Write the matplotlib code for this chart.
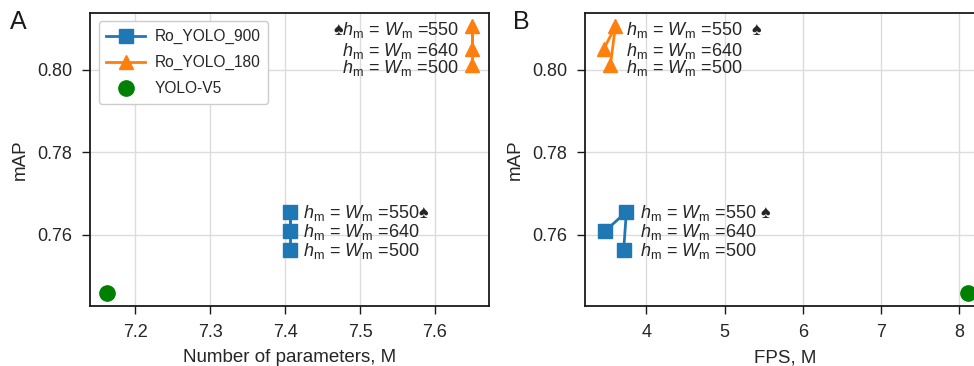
import matplotlib
matplotlib.use("Agg")
import matplotlib.pyplot as plt

plt.rcParams['font.family'] = ['Liberation Sans', 'DejaVu Sans']
plt.rcParams['mathtext.fontset'] = 'custom'
plt.rcParams['mathtext.rm'] = 'Liberation Sans'
plt.rcParams['mathtext.it'] = 'Liberation Sans:italic'
plt.rcParams['text.color'] = '#262626'
plt.rcParams['xtick.color'] = '#262626'
plt.rcParams['ytick.color'] = '#262626'
plt.rcParams['axes.labelcolor'] = '#262626'

# ---- data ----
sizes = [500, 550, 640]
params_900 = [7.407, 7.407, 7.407]
fps_900 = [3.71, 3.744, 3.476]
map_900 = [0.7564, 0.7656, 0.7610]

params_180 = [7.649, 7.649, 7.649]
fps_180 = [3.54, 3.604, 3.455]
map_180 = [0.8011, 0.8105, 0.8050]

params_v5 = [7.163]
fps_v5 = [8.11]
map_v5 = [0.7459]

labels_A_900 = [r'$h_{\rm m}$ = $W_{\rm m}$ =500', r'$h_{\rm m}$ = $W_{\rm m}$ =550♠', r'$h_{\rm m}$ = $W_{\rm m}$ =640']
labels_A_180 = [r'$h_{\rm m}$ = $W_{\rm m}$ =500', r'♠$h_{\rm m}$ = $W_{\rm m}$ =550', r'$h_{\rm m}$ = $W_{\rm m}$ =640']
labels_B_900 = [r'$h_{\rm m}$ = $W_{\rm m}$ =500', r'$h_{\rm m}$ = $W_{\rm m}$ =550 ♠', r'$h_{\rm m}$ = $W_{\rm m}$ =640']
labels_B_180 = [r'$h_{\rm m}$ = $W_{\rm m}$ =500', r'$h_{\rm m}$ = $W_{\rm m}$ =550  ♠', r'$h_{\rm m}$ = $W_{\rm m}$ =640']

# vertical nudges (points) for the orange label stack, keeping lines evenly spaced
dy_180 = [-1.2, -1.6, 0.0]

fig = plt.figure(figsize=(9.74, 3.66), dpi=100)
axA = fig.add_axes([0.0924, 0.1639, 0.4097, 0.8014])
axB = fig.add_axes([0.601, 0.1639, 0.4097, 0.8014])

C900 = '#1f77b4'
C180 = '#ff7f0e'
CV5 = 'green'
ANN = 13

def style(ax):
    ax.grid(True, color='#dcdcdc', lw=1.0)
    ax.set_axisbelow(True)
    for s in ax.spines.values():
        s.set_color('#1a1a1a')
        s.set_linewidth(1.3)
    ax.tick_params(axis='both', labelsize=13, length=6, width=1.0, color='#1a1a1a', pad=7)
    ax.set_ylim(0.7428, 0.8138)
    ax.set_yticks([0.76, 0.78, 0.80])
    ax.set_ylabel('mAP', fontsize=13.5, labelpad=6)

# Panel A
axA.plot(params_900, map_900, '-s', color=C900, lw=2, ms=10, label='Ro_YOLO_900')
axA.plot(params_180, map_180, '-^', color=C180, lw=2, ms=10.5, label='Ro_YOLO_180')
axA.plot(params_v5, map_v5, 'o', color=CV5, ms=11, label='YOLO-V5', ls='none')
style(axA)
axA.set_xlim(7.14, 7.672)
axA.set_xticks([7.2, 7.3, 7.4, 7.5, 7.6])
axA.set_xlabel('Number of parameters, M', fontsize=13.5, labelpad=6)
for x, y, t in zip(params_900, map_900, labels_A_900):
    axA.annotate(t, (x, y), xytext=(9.5, -4.7), textcoords='offset points',
                 ha='left', va='baseline', fontsize=ANN)
for x, y, t, d in zip(params_180, map_180, labels_A_180, dy_180):
    axA.annotate(t, (x, y), xytext=(-9.5, -4.7 + d), textcoords='offset points',
                 ha='right', va='baseline', fontsize=ANN)
leg = axA.legend(loc='upper left', fontsize=11.2, handlelength=2.5, handletextpad=0.6,
                 labelspacing=0.7, borderpad=0.5, borderaxespad=0.55, framealpha=1,
                 edgecolor='#cccccc', fancybox=True)

# Panel B
axB.plot(fps_900, map_900, '-s', color=C900, lw=2, ms=10)
axB.plot(fps_180, map_180, '-^', color=C180, lw=2, ms=10.5)
axB.plot(fps_v5, map_v5, 'o', color=CV5, ms=11, ls='none')
style(axB)
axB.set_xlim(3.22, 8.322)
axB.set_xticks([4, 5, 6, 7, 8])
axB.set_xlabel('FPS, M', fontsize=13.5, labelpad=6)
xb900 = max(fps_900)
for y, t in zip(map_900, labels_B_900):
    axB.annotate(t, (xb900, y), xytext=(9.5, -4.7), textcoords='offset points',
                 ha='left', va='baseline', fontsize=ANN)
xb180 = max(fps_180)
for y, t, d in zip(map_180, labels_B_180, dy_180):
    axB.annotate(t, (xb180, y), xytext=(7.3, -4.7 + d), textcoords='offset points',
                 ha='left', va='baseline', fontsize=ANN)

fig.text(10 / 974, 1 - 22 / 366, 'A', fontsize=18, va='center', ha='left', color='#1a1a1a')
fig.text(513 / 974, 1 - 22 / 366, 'B', fontsize=18, va='center', ha='left', color='#1a1a1a')

fig.savefig('out.png', dpi=100)
